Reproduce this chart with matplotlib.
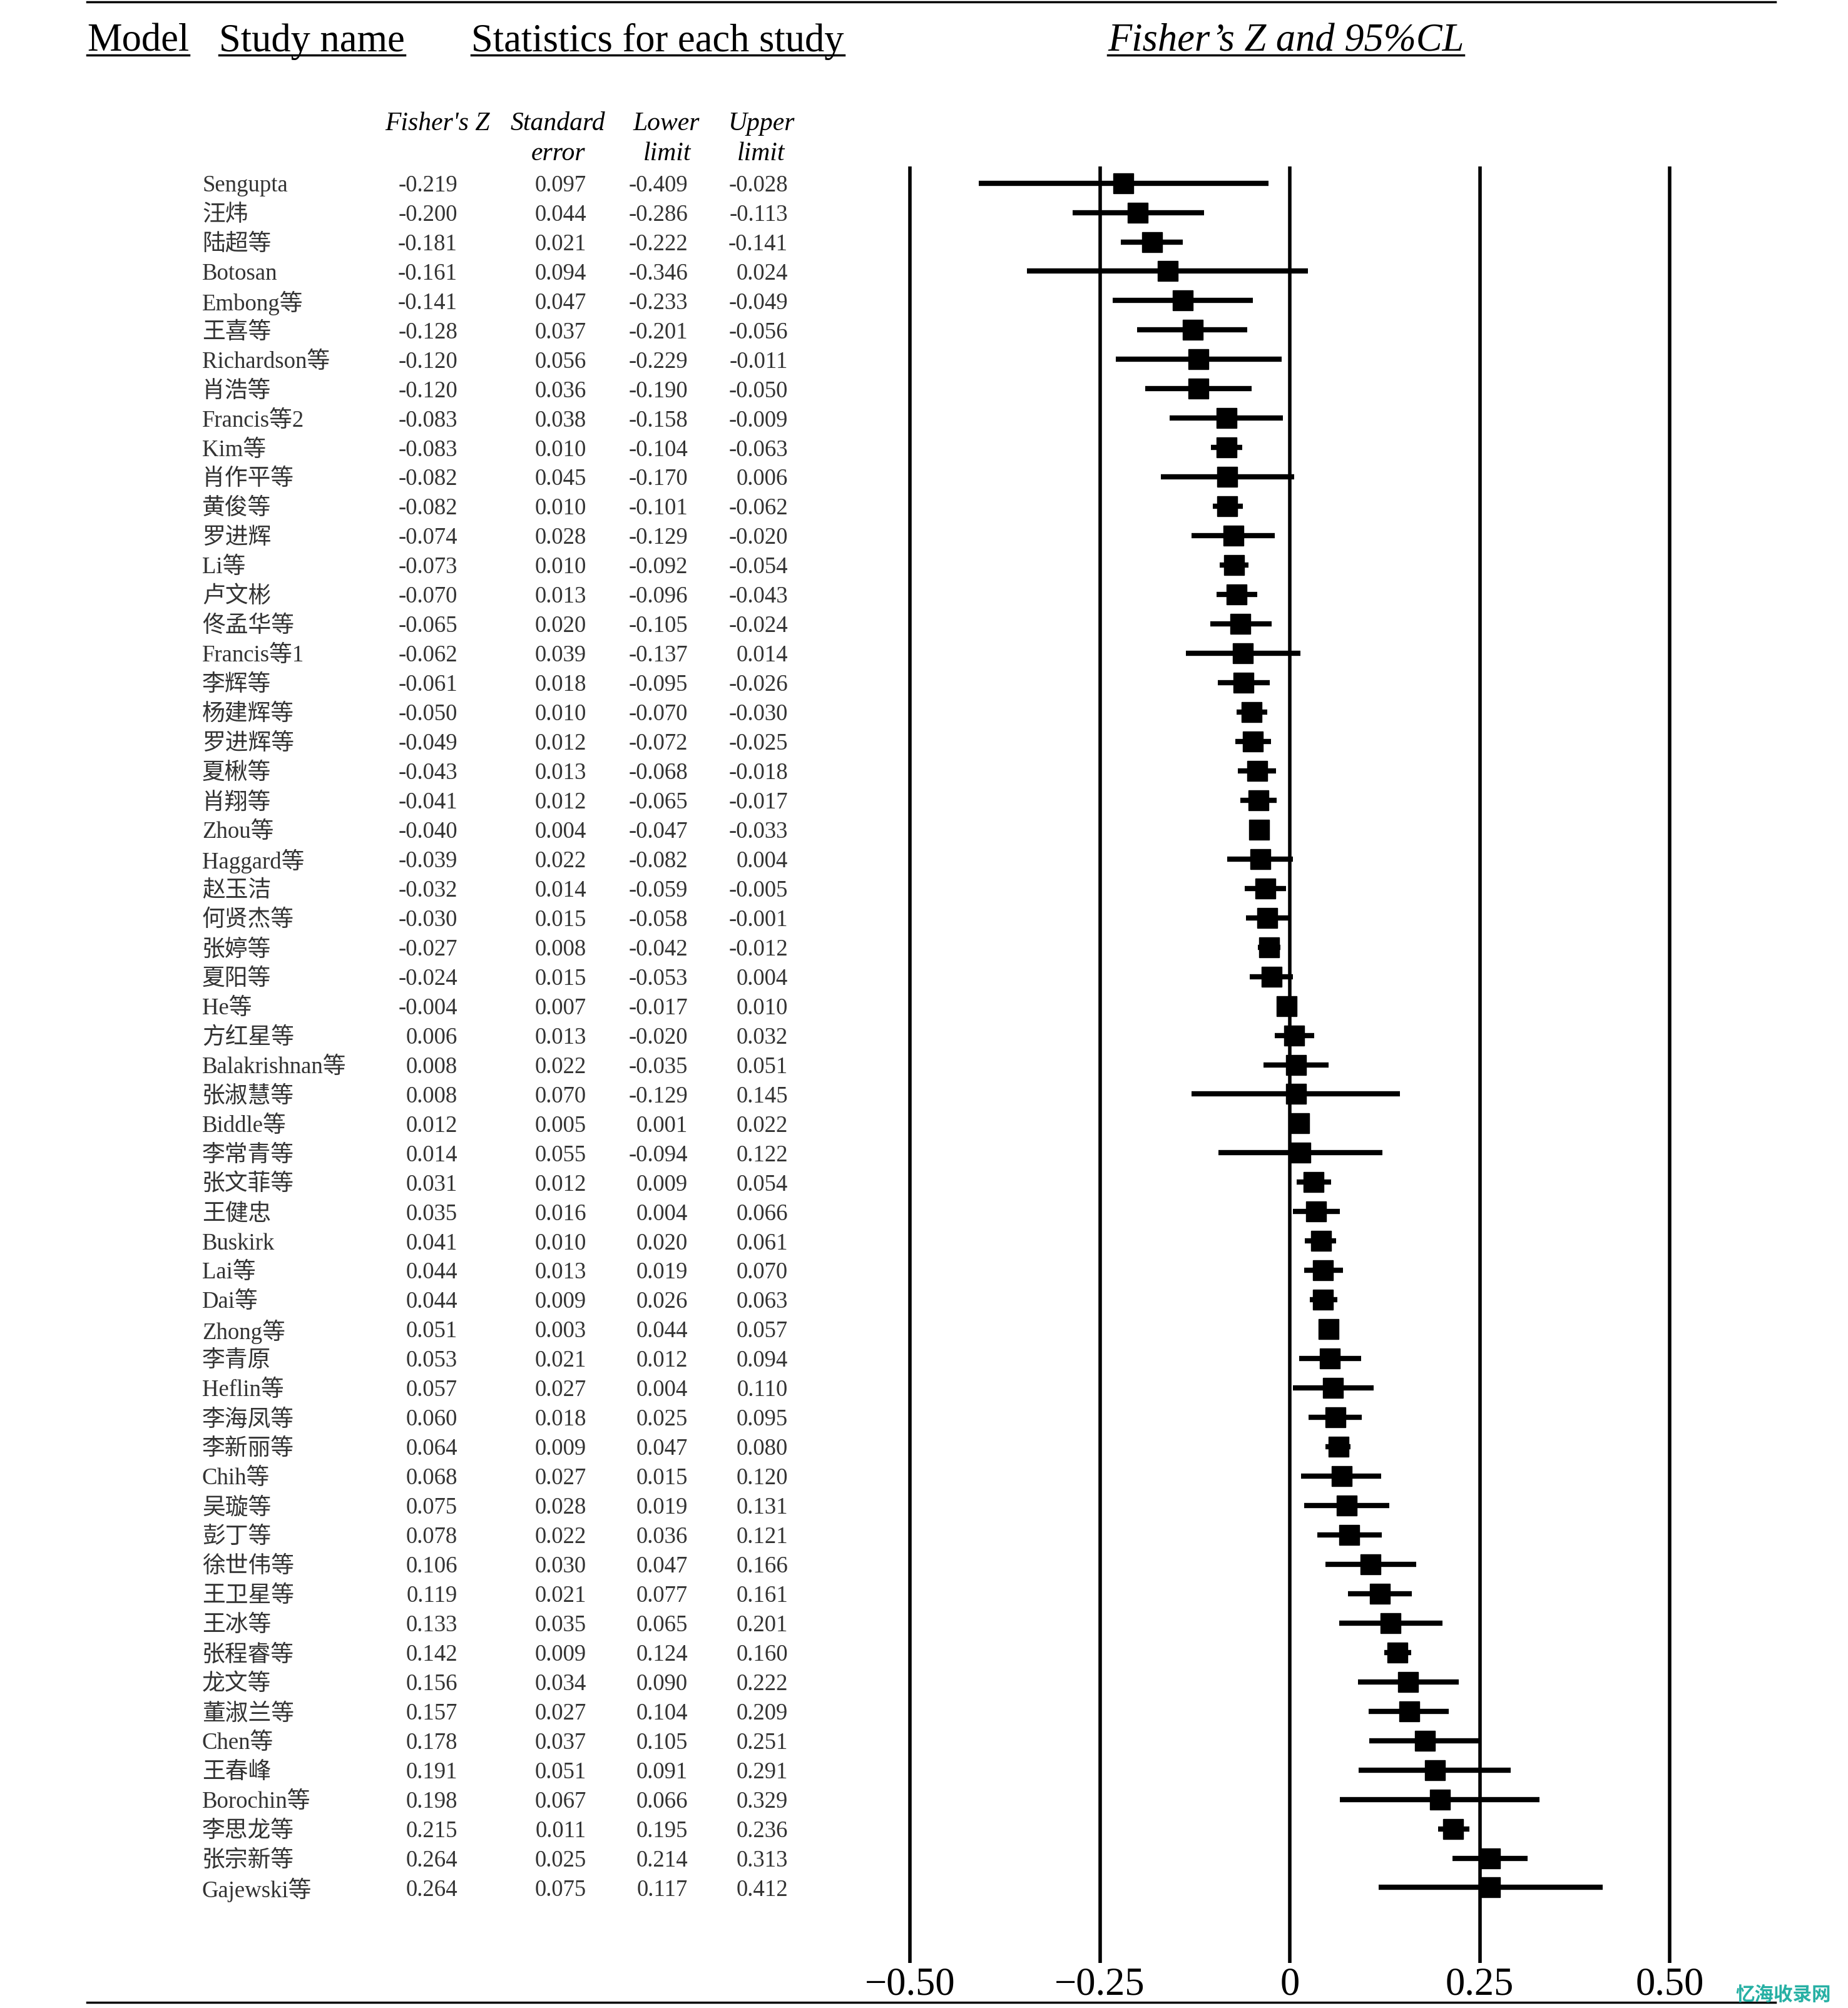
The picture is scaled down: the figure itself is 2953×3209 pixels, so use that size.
import matplotlib
matplotlib.use("Agg")
import matplotlib.pyplot as plt
import matplotlib.transforms as mtransforms
from matplotlib.lines import Line2D

W, H = 2953, 3209
SERIF = ["Liberation Serif", "Noto Sans CJK SC"]
plt.rcParams["font.family"] = SERIF

study = [
    "Sengupta", "汪炜", "陆超等", "Botosan", "Embong等", "王喜等", "Richardson等", "肖浩等",
    "Francis等2", "Kim等", "肖作平等", "黄俊等", "罗进辉", "Li等", "卢文彬", "佟孟华等",
    "Francis等1", "李辉等", "杨建辉等", "罗进辉等", "夏楸等", "肖翔等", "Zhou等", "Haggard等",
    "赵玉洁", "何贤杰等", "张婷等", "夏阳等", "He等", "方红星等", "Balakrishnan等", "张淑慧等",
    "Biddle等", "李常青等", "张文菲等", "王健忠", "Buskirk", "Lai等", "Dai等", "Zhong等",
    "李青原", "Heflin等", "李海凤等", "李新丽等", "Chih等", "吴璇等", "彭丁等", "徐世伟等",
    "王卫星等", "王冰等", "张程睿等", "龙文等", "董淑兰等", "Chen等", "王春峰", "Borochin等",
    "李思龙等", "张宗新等", "Gajewski等",
]
fisher_z = [
    -0.219, -0.200, -0.181, -0.161, -0.141, -0.128, -0.120, -0.120,
    -0.083, -0.083, -0.082, -0.082, -0.074, -0.073, -0.070, -0.065,
    -0.062, -0.061, -0.050, -0.049, -0.043, -0.041, -0.040, -0.039,
    -0.032, -0.030, -0.027, -0.024, -0.004, 0.006, 0.008, 0.008,
    0.012, 0.014, 0.031, 0.035, 0.041, 0.044, 0.044, 0.051,
    0.053, 0.057, 0.060, 0.064, 0.068, 0.075, 0.078, 0.106,
    0.119, 0.133, 0.142, 0.156, 0.157, 0.178, 0.191, 0.198,
    0.215, 0.264, 0.264,
]
std_err = [
    0.097, 0.044, 0.021, 0.094, 0.047, 0.037, 0.056, 0.036,
    0.038, 0.010, 0.045, 0.010, 0.028, 0.010, 0.013, 0.020,
    0.039, 0.018, 0.010, 0.012, 0.013, 0.012, 0.004, 0.022,
    0.014, 0.015, 0.008, 0.015, 0.007, 0.013, 0.022, 0.070,
    0.005, 0.055, 0.012, 0.016, 0.010, 0.013, 0.009, 0.003,
    0.021, 0.027, 0.018, 0.009, 0.027, 0.028, 0.022, 0.030,
    0.021, 0.035, 0.009, 0.034, 0.027, 0.037, 0.051, 0.067,
    0.011, 0.025, 0.075,
]
lower = [
    -0.409, -0.286, -0.222, -0.346, -0.233, -0.201, -0.229, -0.190,
    -0.158, -0.104, -0.170, -0.101, -0.129, -0.092, -0.096, -0.105,
    -0.137, -0.095, -0.070, -0.072, -0.068, -0.065, -0.047, -0.082,
    -0.059, -0.058, -0.042, -0.053, -0.017, -0.020, -0.035, -0.129,
    0.001, -0.094, 0.009, 0.004, 0.020, 0.019, 0.026, 0.044,
    0.012, 0.004, 0.025, 0.047, 0.015, 0.019, 0.036, 0.047,
    0.077, 0.065, 0.124, 0.090, 0.104, 0.105, 0.091, 0.066,
    0.195, 0.214, 0.117,
]
upper = [
    -0.028, -0.113, -0.141, 0.024, -0.049, -0.056, -0.011, -0.050,
    -0.009, -0.063, 0.006, -0.062, -0.020, -0.054, -0.043, -0.024,
    0.014, -0.026, -0.030, -0.025, -0.018, -0.017, -0.033, 0.004,
    -0.005, -0.001, -0.012, 0.004, 0.010, 0.032, 0.051, 0.145,
    0.022, 0.122, 0.054, 0.066, 0.061, 0.070, 0.063, 0.057,
    0.094, 0.110, 0.095, 0.080, 0.120, 0.131, 0.121, 0.166,
    0.161, 0.201, 0.160, 0.222, 0.209, 0.251, 0.291, 0.329,
    0.236, 0.313, 0.412,
]
ticks = [-0.50, -0.25, 0, 0.25, 0.50]
tick_labels = ["\u22120.50", "\u22120.25", "0", "0.25", "0.50"]


def fx(px):
    return px / W


def fy(px):
    return 1 - px / H


fig = plt.figure(figsize=(W / 100, H / 100), dpi=100)
fig.patch.set_facecolor("white")

# forest panel: -0.5 at x=1454px, 0.5 at x=2668px; lines from y=266 to 3137
ax = fig.add_axes([fx(1454), fy(3137), fx(2668 - 1454), (3137 - 266) / H])
rows = list(range(len(study)))
ax.set_xlim(-0.5, 0.5)
ax.set_ylim(len(study) - 1 + 2.566, -0.566)
for t in ticks:
    ax.axvline(t, color="black", lw=4, solid_capstyle="butt", clip_on=False)
ax.hlines(rows, lower, upper, color="black", lw=6, capstyle="butt", clip_on=False)
ax.plot(fisher_z, rows, "s", color="black", ms=23, clip_on=False)
for s in ax.spines.values():
    s.set_visible(False)
ax.set_yticks([])
ax.set_xticks(ticks, tick_labels)
ax.tick_params(axis="x", length=0, pad=5, labelsize=45)

# table text in figure-x / data-y coordinates
tr = mtransforms.blended_transform_factory(fig.transFigure, ax.transData)
body = dict(fontsize=26.5, color="#333333", va="center_baseline", transform=tr)
col_right = [731, 937, 1099, 1259]
for i, name in enumerate(study):
    fig.text(fx(323), i, name, ha="left", **body)
    for xr, col in zip(col_right, [fisher_z, std_err, lower, upper]):
        fig.text(fx(xr), i, f"{col[i]:.3f}", ha="right", **body)

# column headers
hdr = dict(fontsize=30, style="italic", ha="center", va="baseline")
fig.text(fx(699), fy(208), "Fisher's Z", **hdr)
fig.text(fx(891), fy(208), "Standard", **hdr)
fig.text(fx(892), fy(256), "error", **hdr)
fig.text(fx(1065), fy(208), "Lower", **hdr)
fig.text(fx(1066), fy(256), "limit", **hdr)
fig.text(fx(1216), fy(208), "Upper", **hdr)
fig.text(fx(1216), fy(256), "limit", **hdr)

# top titles with underlines
titles = [
    (139, "Model", "normal"),
    (350, "Study name", "normal"),
    (753, "Statistics for each study", "normal"),
    (1770, "Fisher\u2019s Z and 95%CL", "italic"),
]
renderer = fig.canvas.get_renderer()
for x0, label, style in titles:
    t = fig.text(fx(x0), fy(82), label, fontsize=45, style=style, ha="left", va="baseline")
    bb = t.get_window_extent(renderer).transformed(fig.transFigure.inverted())
    fig.add_artist(Line2D([bb.x0, bb.x1], [fy(88), fy(88)], color="black", lw=2.5,
                          transform=fig.transFigure))

# frame rules
for y in (3, 3200):
    fig.add_artist(Line2D([fx(139), fx(2837)], [fy(y), fy(y)], color="black", lw=2.5,
                          transform=fig.transFigure))

fig.text(fx(2773), fy(3188), "忆海收录网", fontsize=22, fontweight="bold",
         family=["Noto Sans CJK SC"], color="#27b0a4", ha="left", va="center")

fig.savefig("out.png", dpi=100)
